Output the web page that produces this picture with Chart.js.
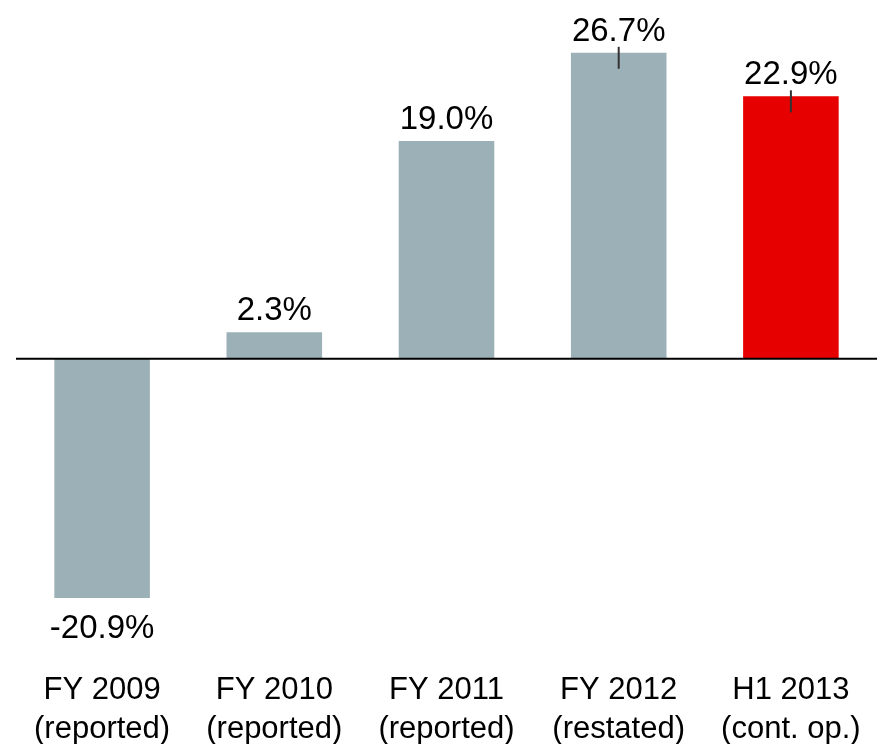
<!DOCTYPE html>
<html>
<head>
<meta charset="utf-8">
<script src="https://cdn.jsdelivr.net/npm/chart.js@4"></script>
<style>
  html, body { margin: 0; padding: 0; background: #fff; }
  #wrap { width: 881px; height: 746px; }
</style>
</head>
<body>
<div id="wrap"><canvas id="returnBar" width="881" height="746"></canvas></div>
<script>
// data
const categories = [["FY 2009", "(reported)"], ["FY 2010", "(reported)"], ["FY 2011", "(reported)"], ["FY 2012", "(restated)"], ["H1 2013", "(cont. op.)"]];
const values = [-20.9, 2.3, 19.0, 26.7, 22.9];
const valueLabels = ["-20.9%", "2.3%", "19.0%", "26.7%", "22.9%"];
const barColors = ["#9cb0b7", "#9cb0b7", "#9cb0b7", "#9cb0b7", "#e60000"];
const hasTickMark = [false, false, false, true, true];

const fontFamily = "'Liberation Sans', Arial, Helvetica, sans-serif";

// zero line, value labels and small marks on the last two bars
const annotate = {
    id: "annotate",
    afterDatasetsDraw(chart) {
        const ctx = chart.ctx;
        const area = chart.chartArea;
        const y0 = chart.scales.y.getPixelForValue(0);

        ctx.save();
        ctx.strokeStyle = "#000";
        ctx.lineWidth = 2;
        ctx.beginPath();
        ctx.moveTo(area.left, y0);
        ctx.lineTo(area.right, y0);
        ctx.stroke();

        const bars = chart.getDatasetMeta(0).data;
        ctx.fillStyle = "#000";
        ctx.font = "33px " + fontFamily;
        ctx.textAlign = "center";
        bars.forEach((bar, i) => {
            if (values[i] >= 0) {
                ctx.textBaseline = "alphabetic";
                ctx.fillText(valueLabels[i], bar.x, bar.y - 12);
            } else {
                ctx.textBaseline = "top";
                ctx.fillText(valueLabels[i], bar.x, bar.y + 14);
            }
            if (hasTickMark[i]) {
                ctx.strokeStyle = "#333";
                ctx.lineWidth = 2;
                ctx.beginPath();
                ctx.moveTo(bar.x, bar.y - 6);
                ctx.lineTo(bar.x, bar.y + 16);
                ctx.stroke();
            }
        });
        ctx.restore();
    }
};

const barCtx = document.getElementById("returnBar").getContext("2d");
new Chart(barCtx, {
    type: "bar",
    data: {
        labels: categories,
        datasets: [{
            data: values,
            backgroundColor: barColors,
            borderWidth: 0,
            barPercentage: 0.555,
            categoryPercentage: 1
        }]
    },
    options: {
        responsive: false,
        maintainAspectRatio: false,
        animation: false,
        layout: { padding: { left: 16, right: 4, top: 15, bottom: 2 } },
        plugins: {
            legend: { display: false },
            tooltip: { enabled: false }
        },
        scales: {
            x: {
                grid: { display: false, drawTicks: false },
                border: { display: false },
                afterFit(scale) {
                    // fixed axis height so the plot reaches down to the labels
                    scale.height = 99;
                    scale.paddingRight = 0;
                    scale.paddingLeft = 0;
                },
                ticks: {
                    color: "#000",
                    padding: 26,
                    maxRotation: 0,
                    font: { family: fontFamily, size: 31, lineHeight: 1.25 }
                }
            },
            y: {
                display: false,
                min: -25,
                max: 30
            }
        }
    },
    plugins: [annotate]
});
</script>
</body>
</html>
